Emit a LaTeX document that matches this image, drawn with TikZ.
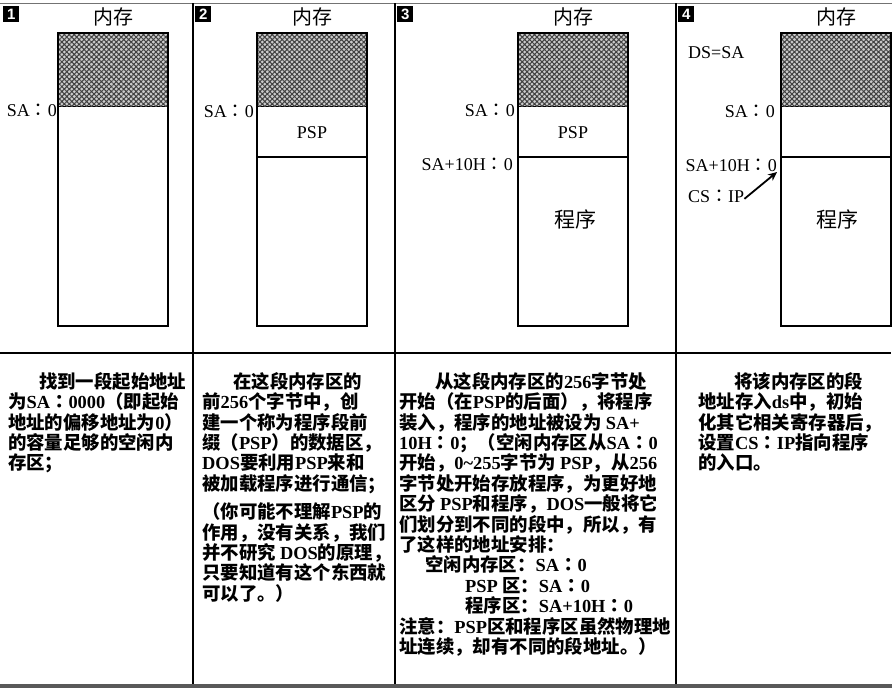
\documentclass[tikz,border=0pt]{standalone}
\usepackage{fontspec}
\setmainfont{Liberation Serif}
\setsansfont{Liberation Sans}
\newfontfamily\cjk{Noto Sans CJK SC}
\newfontfamily\cjktc{Noto Sans CJK TC}
\usepackage{tikz}
\usetikzlibrary{arrows.meta, positioning, patterns.meta}
\newcommand{\en}[1]{{\rmfamily #1}}
\newcommand{\cl}{{\cjktc ：}}
\tikzstyle{hatch} = [fill=black!20, postaction={pattern={Hatch[angle=45, distance=3.5pt, line width=1pt]}, pattern color=black!75}]
\tikzstyle{badge} = [fill=black, text=white, inner sep=0pt, minimum width=16pt, minimum height=16pt, font=\sffamily\bfseries\fontsize{15}{15}\selectfont]
\tikzstyle{lbl} = [inner sep=0pt, font=\fontsize{18}{18}\selectfont]
\tikzstyle{title} = [inner sep=0pt, font=\cjk\fontsize{20}{20}\selectfont]
\tikzstyle{big} = [inner sep=0pt, font=\cjk\fontsize{21}{21}\selectfont]
\tikzstyle{para} = [anchor=north west, inner sep=0pt, align=left, font=\cjk\bfseries\fontsize{18.4}{20.4}\selectfont]

\begin{document}
\begin{tikzpicture}[x=1pt, y=-1pt]
    \useasboundingbox (0,0) rectangle (892,688);

    % frame
    \draw[black!55, line width=1pt] (0,3) -- (892,3);
    \draw[line width=2.5pt] (0,353) -- (891,353);
    \foreach \c in {193,395,676}
        \draw[line width=2.5pt] (\c,3) -- (\c,686);
    \draw[black!65, line width=4pt] (0,686) -- (892,686);

    % numbers
    \foreach \c/\n in {3/1, 195/2, 397/3, 678/4}
        \node[badge, anchor=north west] (b\n) at (\c,6) {\n};

    % memory
    \foreach \x [count=\i] in {58,257,518,781} {
        \draw[hatch] (\x,33) rectangle (\x+110,106);
        \draw[line width=1.2pt] (\x,33) rectangle (\x+110,326);
        \node[title] (mem\i) at (\x+55,17) {内存};
    }
    \foreach \x in {257,518,781}
        \draw[line width=1.2pt] (\x,157) -- (\x+110,157);

    % panel 1
    \node[lbl, anchor=base east] (sa1) at (57,116) {SA\cl0};

    % panel 2
    \node[lbl, anchor=base east] (sa2) at (254,117) {SA\cl0};
    \node[lbl] (psp2) at (312,133) {PSP};

    % panel 3
    \node[lbl, anchor=base east] (sa3) at (515,116) {SA\cl0};
    \node[lbl, anchor=base east] (off3) at (513,170) {SA+10H\cl0};
    \node[lbl] (psp3) at (573,133) {PSP};
    \node[big] (prg3) at (575,219) {程序};

    % panel 4
    \node[lbl, anchor=base west] (ds4) at (688,58) {DS=SA};
    \node[lbl, anchor=base east] (sa4) at (775,117) {SA\cl0};
    \node[lbl, anchor=base east] (off4) at (777,171) {SA+10H\cl0};
    \node[lbl, anchor=base west] (csip) at (688,202) {CS\cl IP};
    \node[big] (prg4) at (837,219) {程序};
    \coordinate (entry) at (777,172);
    \draw[line width=1.8pt, -{Stealth[length=9pt,width=8pt]}]
        ([yshift=-3pt]csip.east) -- (entry);

    % texts
    \node[para] (p1) at (8,372) {\hspace*{31pt}找到一段起始地址\\
        为\en{SA}\cl\en{0000}（即起始\\
        地址的偏移地址为\en{0}）\\
        的容量足够的空闲内\\
        存区；};
    \node[para] (p2) at (202,372) {\hspace*{31pt}在这段内存区的\\
        前\en{256}个字节中，创\\
        建一个称为程序段前\\
        缀（\en{PSP}）的数据区，\\
        \en{DOS}要利用\en{PSP}来和\\
        被加载程序进行通信；\\[8pt]
        （你可能不理解\en{PSP}的\\
        作用，没有关系，我们\\
        并不研究 \en{DOS}的原理，\\
        只要知道有这个东西就\\
        可以了。）};
    \node[para] (p3) at (399,372) {\hspace*{36pt}从这段内存区的\en{256}字节处\\
        开始（在\en{PSP}的后面），将程序\\
        装入，程序的地址被设为 \en{SA+}\\
        \en{10H}\cl\en{0}；（空闲内存区从\en{SA}\cl\en{0}\\
        开始，\en{0\textasciitilde255}字节为 \en{PSP}，从\en{256}\\
        字节处开始存放程序，为更好地\\
        区分 \en{PSP}和程序，\en{DOS}一般将它\\
        们划分到不同的段中，所以，有\\
        了这样的地址安排：\\
        \hspace*{26pt}空闲内存区：\en{SA}\cl\en{0}\\
        \hspace*{66pt}\en{PSP} 区：\en{SA}\cl\en{0}\\
        \hspace*{66pt}程序区：\en{SA+10H}\cl\en{0}\\
        注意：\en{PSP}区和程序区虽然物理地\\
        址连续，却有不同的段地址。）};
    \node[para] (p4) at (698,372) {\hspace*{36pt}将该内存区的段\\
        地址存入\en{ds}中，初始\\
        化其它相关寄存器后，\\
        设置\en{CS}\cl\en{IP}指向程序\\
        的入口。};
\end{tikzpicture}
\end{document}
